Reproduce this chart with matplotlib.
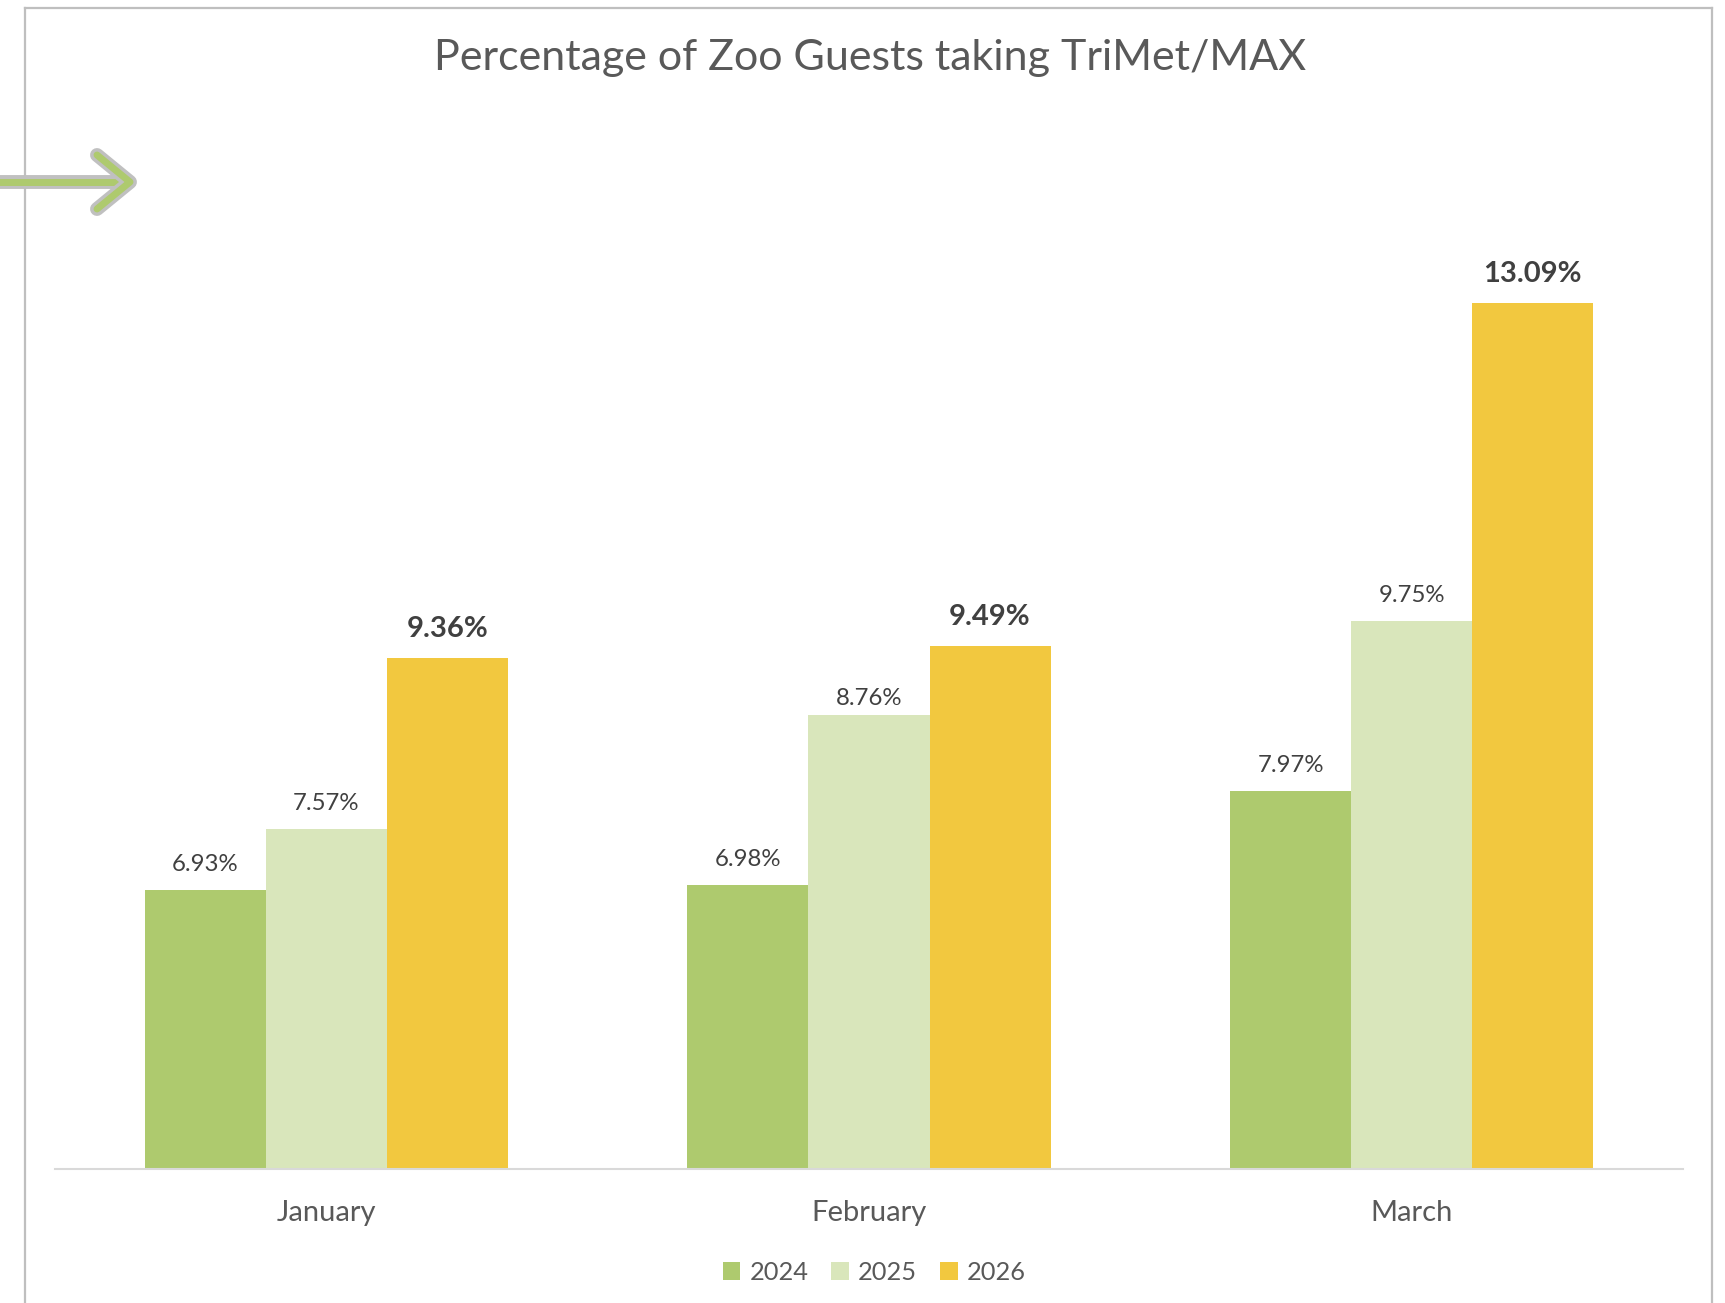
import matplotlib
matplotlib.use("Agg")
import matplotlib.pyplot as plt
import matplotlib.patheffects as pe
from matplotlib.lines import Line2D
from matplotlib.patches import Patch
import numpy as np

plt.rcParams['font.family'] = ['Lato', 'DejaVu Sans']

# ---- data ----
months = ["January", "February", "March"]
years = ["2024", "2025", "2026"]
v2024 = [6.93, 6.98, 7.97]
v2025 = [7.57, 8.76, 9.75]
v2026 = [9.36, 9.49, 13.09]
series = [v2024, v2025, v2026]
colors = ["#AECA6E", "#D9E6BB", "#F2C83F"]
title = "Percentage of Zoo Guests taking TriMet/MAX"

# label offsets (points above bar top), per series / category
label_offsets = [[13.7, 13.7, 13.7], [13.7, 7.2, 13.7], [15, 15, 15]]

W, H = 1725, 1303
fig = plt.figure(figsize=(W / 100, H / 100), dpi=100)

def fx(px):
    return px / W

def fy(py):
    return 1 - py / H

ax = fig.add_axes([fx(55), fy(1169), fx(1683) - fx(55), fy(216) - fy(1169)])
ax.set_xlim(-0.5, 2.5)
ax.set_ylim(4, 14)

x = np.arange(len(months))
bw = 0.223
for i, (vals, c) in enumerate(zip(series, colors)):
    pos = x + (i - 1) * bw
    ax.bar(pos, [v - 4 for v in vals], bottom=4, width=bw, color=c,
           edgecolor='none', zorder=2)
    for j, (xp, v) in enumerate(zip(pos, vals)):
        off = label_offsets[i][j]
        if i == 2:
            ax.annotate(f"{v:.2f}%", (xp, v), xytext=(0, off), textcoords='offset points',
                        ha='center', va='baseline', fontsize=21, fontweight='bold',
                        color='#404040')
        else:
            ax.annotate(f"{v:.2f}%", (xp, v), xytext=(0, off), textcoords='offset points',
                        ha='center', va='baseline', fontsize=17.3, color='#404040')

for s in ['top', 'right', 'left']:
    ax.spines[s].set_visible(False)
ax.spines['bottom'].set_color('#D9D9D9')
ax.spines['bottom'].set_linewidth(1.5)
ax.set_yticks([])
ax.set_xticks(x)
ax.set_xticklabels(months, fontsize=21, color='#595959')
ax.tick_params(axis='x', length=0, pad=22)

fig.text(fx(870), fy(70), title, ha='center', va='baseline', fontsize=31, color='#595959')

handles = [Patch(facecolor=c, edgecolor='none') for c in colors]
fig.legend(handles, years, loc='center', bbox_to_anchor=(fx(874), fy(1272)), ncol=3,
           frameon=False, fontsize=18.3, handlelength=0.7, handleheight=0.7,
           handletextpad=0.35, columnspacing=0.9, labelcolor='#595959')

# chart border
bc = '#BFBFBF'
fig.add_artist(Line2D([fx(25), fx(25)], [fy(8), fy(1310)], color=bc, lw=1.6, transform=fig.transFigure))
fig.add_artist(Line2D([fx(25), fx(1712)], [fy(8), fy(8)], color=bc, lw=1.6, transform=fig.transFigure))
fig.add_artist(Line2D([fx(1712), fx(1712)], [fy(8), fy(1310)], color=bc, lw=1.6, transform=fig.transFigure))

# decorative arrow
stroke = [pe.Stroke(linewidth=10, foreground='#C0C0C0', capstyle='round', joinstyle='round'), pe.Normal()]
fig.add_artist(Line2D([fx(-10), fx(128)], [fy(182), fy(182)], color='#AECA6E', lw=5,
                      solid_capstyle='round', transform=fig.transFigure, path_effects=stroke))
fig.add_artist(Line2D([fx(97), fx(130), fx(97)], [fy(155), fy(182), fy(209)], color='#AECA6E', lw=5,
                      solid_capstyle='round', solid_joinstyle='round', transform=fig.transFigure,
                      path_effects=stroke))

fig.savefig("out.png", dpi=100)
